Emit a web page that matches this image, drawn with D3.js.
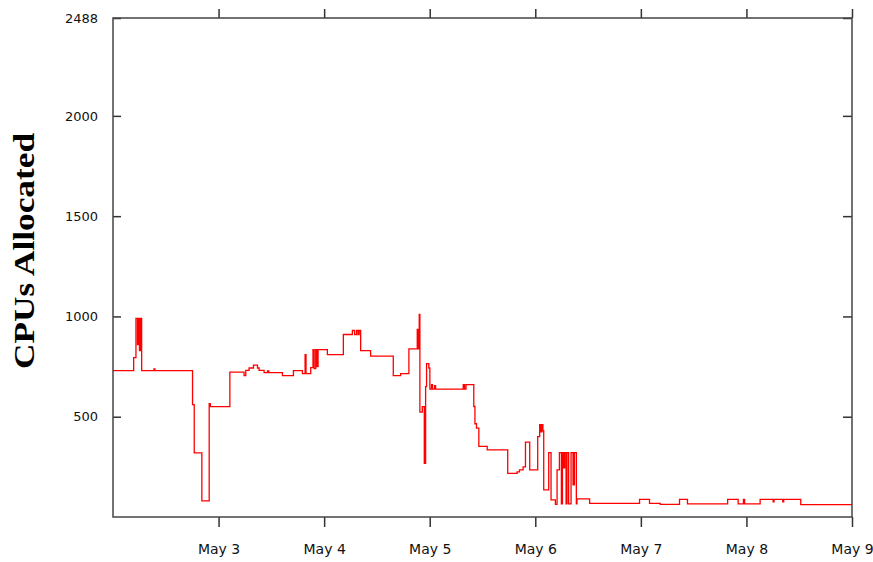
<!DOCTYPE html>
<html>
<head>
<meta charset="utf-8">
<script src="https://cdn.jsdelivr.net/npm/d3@7"></script>
<style>
  body { margin: 0; background: #fff; }
  svg { display: block; }
</style>
</head>
<body>
<div id="chart"></div>
<script>
// hours after May 2 00:00, and CPUs allocated from that moment (step after)
var hoursSinceStart = [0, 4.7, 5.22, 5.56, 5.79, 6.02, 6.24, 6.52, 9.31, 9.53,
  18.09, 18.46, 20.2, 21.86, 22.13, 26.56, 29.8, 30.19, 30.94, 31.94,
  32.85, 33.21, 34.35, 35.12, 35.41, 38.52, 41.02, 43.06, 43.66, 43.88,
  44.95, 45.47, 45.74, 46.08, 46.31, 46.61, 48.74, 52.37, 54.42, 54.94,
  55.39, 55.73, 55.96, 56.3, 58.57, 63.72, 65.38, 67.26, 69.17, 69.35,
  69.62, 69.76, 70.31, 70.76, 71.06, 71.28, 71.8, 72.03, 72.42, 72.64,
  73.1, 73.33, 79.61, 79.91, 80.25, 82.02, 82.29, 82.63, 83.16, 85.06,
  89.74, 91.87, 92.4, 93.24, 93.76, 94.73, 96.55, 97.0, 97.28, 97.5,
  97.73, 97.91, 99.05, 99.59, 100.57, 100.95, 101.14, 101.48, 101.93, 102.16,
  102.45, 102.68, 103.0, 103.22, 103.59, 104.13, 104.59, 104.88, 105.33, 105.49,
  108.35, 119.7, 121.97, 124.4, 128.79, 130.6, 139.73, 142.11, 143.32, 143.59,
  147.11, 150.06, 150.29, 152.26, 152.49, 156.35, 168];
var cpus = [730, 795, 990, 860, 990, 830, 990, 730, 738, 730,
  560, 320, 80, 565, 550, 722, 705, 731, 743, 757,
  743, 731, 720, 728, 720, 705, 730, 715, 810, 715,
  745, 835, 740, 835, 750, 835, 810, 910, 930, 910,
  930, 910, 930, 830, 802, 705, 715, 838, 935, 838,
  1010, 523, 550, 268, 650, 765, 743, 638, 660, 638,
  655, 638, 660, 638, 660, 551, 465, 443, 352, 335,
  218, 225, 235, 250, 373, 235, 401, 460, 425, 460,
  430, 135, 321, 85, 63, 235, 235, 321, 65, 321,
  245, 321, 65, 321, 65, 321, 160, 321, 65, 90,
  68, 88, 68, 63, 88, 65, 88, 65, 88, 65,
  88, 75, 88, 75, 88, 62, 62];

var yTicks = [500, 1000, 1500, 2000, 2488];
var xTickLabels = ["May 3", "May 4", "May 5", "May 6", "May 7", "May 8", "May 9"];

function drawChart() {
  var start = new Date(2016, 4, 2);
  var data = hoursSinceStart.map(function (h, i) {
    return { t: d3.timeMinute.offset(start, Math.round(h * 60)), v: cpus[i] };
  });

  var width = 873, height = 562;
  var mLeft = 113, mTop = 18, mRight = 852, mBottom = 517;

  var x = d3.scaleTime()
    .domain([start, d3.timeDay.offset(start, 7)])
    .range([mLeft, mRight]);
  var y = d3.scaleLinear()
    .domain([0, 2488])
    .range([mBottom, mTop]);

  var svg = d3.select("#chart").append("svg")
    .attr("width", width)
    .attr("height", height);

  var dayTicks = xTickLabels.map(function (d, i) { return d3.timeDay.offset(start, i + 1); });

  var xBottom = d3.axisBottom(x)
    .tickValues(dayTicks)
    .tickSize(10)
    .tickPadding(17)
    .tickFormat(function (d, i) { return xTickLabels[i]; });
  var xTop = d3.axisTop(x).tickValues(dayTicks).tickSize(9).tickFormat("");
  var yLeft = d3.axisLeft(y)
    .tickValues(yTicks)
    .tickSize(-8)
    .tickPadding(15)
    .tickFormat(d3.format("d"));
  var yRight = d3.axisRight(y).tickValues(yTicks).tickSize(-9).tickFormat("");

  function style(g) {
    g.select(".domain").remove();
    g.selectAll(".tick line").attr("stroke", "#333").attr("stroke-width", 1.5);
    g.selectAll(".tick text")
      .attr("fill", "#111")
      .style("font-family", "DejaVu Sans, Verdana, sans-serif")
      .style("font-size", "14px");
  }

  svg.append("g").attr("transform", "translate(0," + mBottom + ")").call(xBottom).call(style);
  svg.append("g").attr("transform", "translate(0," + mTop + ")").call(xTop).call(style);
  svg.append("g").attr("transform", "translate(" + mLeft + ",0)").call(yLeft).call(style);
  svg.append("g").attr("transform", "translate(" + mRight + ",0)").call(yRight).call(style);

  svg.selectAll("g .tick text").filter(function (d) { return typeof d === "number"; })
    .style("font-size", "13px");

  var line = d3.line()
    .curve(d3.curveStepAfter)
    .x(function (d) { return x(d.t); })
    .y(function (d) { return y(d.v); });

  svg.append("path")
    .datum(data)
    .attr("fill", "none")
    .attr("stroke", "#ff0000")
    .attr("stroke-width", 1.3)
    .attr("d", line);

  svg.append("rect")
    .attr("x", mLeft)
    .attr("y", mTop)
    .attr("width", mRight - mLeft)
    .attr("height", mBottom - mTop)
    .attr("fill", "none")
    .attr("stroke", "#444")
    .attr("stroke-width", 1.5);

  svg.append("text")
    .attr("transform", "translate(34,251) rotate(-90)")
    .attr("text-anchor", "middle")
    .attr("textLength", 236)
    .attr("lengthAdjust", "spacingAndGlyphs")
    .style("font-family", "Liberation Serif, Times New Roman, serif")
    .style("font-weight", "bold")
    .style("font-size", "30px")
    .attr("fill", "#000")
    .text("CPUs Allocated");
}

drawChart();
</script>
</body>
</html>
